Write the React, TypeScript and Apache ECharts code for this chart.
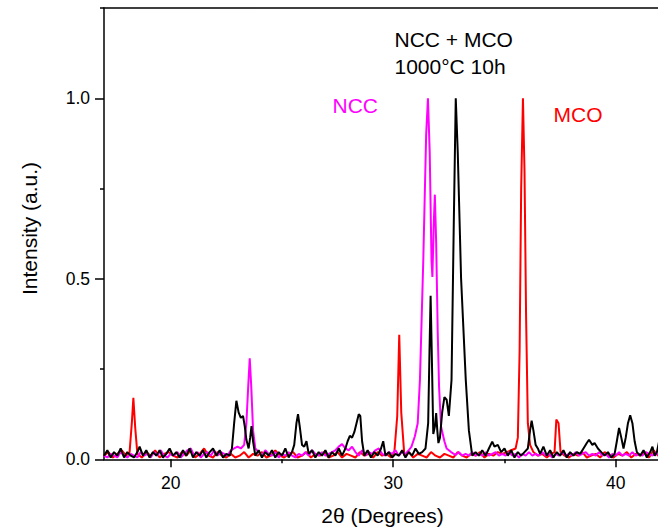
import React, { useEffect, useRef } from "react";
import * as echarts from "echarts";

const xTickMajor = [20, 30, 40];
const xTickMinor = [25, 35];
const yTickMajor = [0, 0.5, 1.0];
const yTickMinor = [0.25, 0.75, 1.25];

// MCO (red)
const mcoData: [number, number][] = [
  [17.0, 0.01], [17.2, 0.02], [17.4, 0.005], [17.6, 0.015], [17.8, 0.025], [18.0, 0.01], [18.15, 0.02],
  [18.25, 0.1], [18.32, 0.17], [18.4, 0.09], [18.5, 0.015], [18.7, 0.005], [18.9, 0.02], [19.1, 0.01],
  [19.3, 0.025], [19.5, 0.005], [19.7, 0.015], [19.9, 0.02], [20.1, 0.01], [20.3, 0.005], [20.5, 0.02],
  [20.7, 0.01], [20.9, 0.025], [21.1, 0.005], [21.3, 0.015], [21.5, 0.03], [21.7, 0.01], [21.9, 0.005],
  [22.1, 0.02], [22.3, 0.01], [22.5, 0.005], [22.7, 0.015], [22.9, 0.005], [23.1, 0.01], [23.3, 0.02],
  [23.5, 0.005], [23.7, 0.015], [23.9, 0.01], [24.1, 0.02], [24.3, 0.005], [24.5, 0.01], [24.7, 0.025],
  [24.9, 0.01], [25.1, 0.005], [25.3, 0.015], [25.5, 0.02], [25.7, 0.005], [25.9, 0.01], [26.1, 0.02],
  [26.3, 0.005], [26.5, 0.015], [26.7, 0.01], [26.9, 0.02], [27.1, 0.005], [27.3, 0.01], [27.5, 0.02],
  [27.7, 0.005], [27.9, 0.015], [28.1, 0.01], [28.3, 0.005], [28.5, 0.02], [28.7, 0.01], [28.9, 0.015],
  [29.1, 0.005], [29.3, 0.02], [29.5, 0.01], [29.7, 0.015], [29.9, 0.005], [30.05, 0.02], [30.18, 0.12],
  [30.27, 0.345], [30.36, 0.13], [30.5, 0.01], [30.7, 0.02], [30.9, 0.005], [31.1, 0.015], [31.3, 0.01],
  [31.5, 0.005], [31.7, 0.02], [31.9, 0.01], [32.1, 0.005], [32.3, 0.015], [32.5, 0.01], [32.7, 0.005],
  [32.9, 0.02], [33.1, 0.01], [33.3, 0.005], [33.5, 0.015], [33.7, 0.01], [33.9, 0.02], [34.1, 0.005],
  [34.3, 0.015], [34.5, 0.01], [34.7, 0.02], [34.9, 0.015], [35.1, 0.02], [35.3, 0.025], [35.5, 0.03],
  [35.6, 0.06], [35.68, 0.3], [35.75, 0.75], [35.83, 1.0], [35.9, 0.8], [35.97, 0.4], [36.05, 0.1],
  [36.15, 0.04], [36.3, 0.02], [36.5, 0.01], [36.7, 0.015], [36.9, 0.005], [37.1, 0.015], [37.25, 0.02],
  [37.33, 0.11], [37.43, 0.1], [37.52, 0.02], [37.7, 0.01], [37.9, 0.005], [38.1, 0.015], [38.3, 0.01],
  [38.5, 0.02], [38.7, 0.005], [38.9, 0.01], [39.1, 0.015], [39.3, 0.005], [39.5, 0.02], [39.7, 0.01],
  [39.9, 0.005], [40.1, 0.015], [40.3, 0.01], [40.5, 0.02], [40.7, 0.005], [40.9, 0.015], [41.1, 0.01],
  [41.3, 0.02], [41.5, 0.005], [41.7, 0.025], [41.9, 0.01], [42.1, 0.02], [42.3, 0.01], [42.5, 0.015],
  [42.7, 0.005], [43.0, 0.01],
];

// NCC (magenta)
const nccData: [number, number][] = [
  [17.0, 0.01], [17.15, 0.005], [17.3, 0.015], [17.45, 0.01], [17.6, 0.005], [17.75, 0.02], [17.9, 0.01],
  [18.05, 0.005], [18.2, 0.015], [18.35, 0.01], [18.5, 0.005], [18.65, 0.02], [18.8, 0.01], [18.95, 0.015],
  [19.1, 0.005], [19.25, 0.02], [19.4, 0.01], [19.55, 0.025], [19.7, 0.01], [19.85, 0.005], [20.0, 0.015],
  [20.15, 0.01], [20.3, 0.02], [20.45, 0.005], [20.6, 0.015], [20.75, 0.025], [20.9, 0.03], [21.05, 0.01],
  [21.2, 0.02], [21.35, 0.005], [21.5, 0.015], [21.65, 0.02], [21.8, 0.01], [21.95, 0.025], [22.1, 0.01],
  [22.25, 0.02], [22.4, 0.015], [22.55, 0.01], [22.7, 0.025], [22.85, 0.03], [23.0, 0.035], [23.15, 0.03],
  [23.3, 0.04], [23.4, 0.1], [23.48, 0.2], [23.55, 0.28], [23.62, 0.2], [23.7, 0.08], [23.8, 0.03],
  [23.95, 0.02], [24.1, 0.01], [24.25, 0.025], [24.4, 0.015], [24.55, 0.01], [24.7, 0.02], [24.85, 0.005],
  [25.0, 0.015], [25.15, 0.01], [25.3, 0.02], [25.45, 0.01], [25.6, 0.005], [25.75, 0.015], [25.9, 0.01],
  [26.05, 0.02], [26.2, 0.01], [26.35, 0.025], [26.5, 0.015], [26.65, 0.01], [26.8, 0.02], [26.95, 0.01],
  [27.1, 0.015], [27.25, 0.02], [27.4, 0.025], [27.55, 0.035], [27.7, 0.042], [27.85, 0.03], [28.0, 0.025],
  [28.15, 0.035], [28.3, 0.02], [28.45, 0.01], [28.6, 0.025], [28.75, 0.01], [28.9, 0.02], [29.05, 0.015],
  [29.2, 0.025], [29.35, 0.03], [29.5, 0.015], [29.65, 0.01], [29.8, 0.02], [29.95, 0.015], [30.1, 0.025],
  [30.25, 0.01], [30.4, 0.02], [30.55, 0.015], [30.7, 0.025], [30.82, 0.035], [30.97, 0.063], [31.1, 0.1],
  [31.2, 0.22], [31.35, 0.55], [31.48, 0.9], [31.56, 1.0], [31.64, 0.85], [31.72, 0.55], [31.76, 0.505],
  [31.82, 0.65], [31.87, 0.733], [31.93, 0.6], [32.0, 0.35], [32.06, 0.2], [32.15, 0.09], [32.3, 0.05],
  [32.4, 0.03], [32.6, 0.02], [32.8, 0.012], [32.95, 0.02], [33.1, 0.01], [33.25, 0.015], [33.4, 0.01],
  [33.55, 0.02], [33.7, 0.01], [33.85, 0.015], [34.0, 0.01], [34.15, 0.02], [34.3, 0.01], [34.45, 0.015],
  [34.6, 0.02], [34.75, 0.01], [34.9, 0.015], [35.05, 0.01], [35.2, 0.02], [35.35, 0.01], [35.5, 0.015],
  [35.65, 0.005], [35.8, 0.015], [35.95, 0.01], [36.1, 0.02], [36.25, 0.01], [36.4, 0.015], [36.55, 0.01],
  [36.7, 0.02], [36.85, 0.01], [37.0, 0.015], [37.15, 0.005], [37.3, 0.015], [37.45, 0.01], [37.6, 0.02],
  [37.75, 0.01], [37.9, 0.015], [38.05, 0.01], [38.2, 0.02], [38.35, 0.01], [38.5, 0.015], [38.65, 0.02],
  [38.8, 0.01], [38.95, 0.015], [39.1, 0.01], [39.25, 0.02], [39.4, 0.01], [39.55, 0.015], [39.7, 0.005],
  [39.85, 0.015], [40.0, 0.01], [40.15, 0.02], [40.3, 0.01], [40.45, 0.015], [40.6, 0.01], [40.75, 0.02],
  [40.9, 0.01], [41.05, 0.015], [41.2, 0.01], [41.35, 0.02], [41.5, 0.015], [41.65, 0.01], [41.8, 0.02],
  [41.95, 0.01], [42.2, 0.015], [42.5, 0.01], [42.8, 0.02], [43.0, 0.01],
];

// NCC + MCO (black)
const mixData: [number, number][] = [
  [17.0, 0.01], [17.15, 0.025], [17.3, 0.005], [17.45, 0.02], [17.6, 0.01], [17.75, 0.03], [17.9, 0.005],
  [18.05, 0.02], [18.2, 0.01], [18.35, 0.005], [18.5, 0.02], [18.6, 0.035], [18.75, 0.01], [18.9, 0.025],
  [19.05, 0.005], [19.2, 0.02], [19.35, 0.01], [19.5, 0.025], [19.65, 0.005], [19.8, 0.015], [19.95, 0.03],
  [20.1, 0.01], [20.25, 0.02], [20.4, 0.005], [20.55, 0.025], [20.7, 0.01], [20.85, 0.03], [21.0, 0.005],
  [21.15, 0.02], [21.3, 0.01], [21.45, 0.025], [21.6, 0.005], [21.75, 0.02], [21.9, 0.03], [22.05, 0.01],
  [22.2, 0.025], [22.35, 0.005], [22.5, 0.015], [22.65, 0.01], [22.75, 0.03], [22.85, 0.1], [22.95, 0.162],
  [23.05, 0.13], [23.15, 0.115], [23.25, 0.12], [23.33, 0.09], [23.4, 0.054], [23.5, 0.03], [23.57, 0.06],
  [23.63, 0.092], [23.7, 0.05], [23.8, 0.01], [23.95, 0.025], [24.1, 0.005], [24.25, 0.02], [24.4, 0.01],
  [24.55, 0.025], [24.7, 0.005], [24.85, 0.02], [25.0, 0.01], [25.15, 0.03], [25.3, 0.005], [25.45, 0.02],
  [25.55, 0.04], [25.65, 0.1], [25.72, 0.125], [25.8, 0.09], [25.9, 0.04], [26.0, 0.035], [26.1, 0.05],
  [26.2, 0.015], [26.35, 0.025], [26.5, 0.005], [26.65, 0.02], [26.8, 0.01], [26.95, 0.025], [27.1, 0.005],
  [27.25, 0.02], [27.4, 0.01], [27.55, 0.03], [27.7, 0.01], [27.85, 0.03], [27.95, 0.05], [28.05, 0.065],
  [28.15, 0.06], [28.25, 0.075], [28.35, 0.1], [28.45, 0.125], [28.52, 0.12], [28.6, 0.05], [28.7, 0.01],
  [28.85, 0.025], [29.0, 0.005], [29.15, 0.02], [29.3, 0.01], [29.45, 0.03], [29.55, 0.05], [29.65, 0.01],
  [29.8, 0.02], [29.95, 0.005], [30.1, 0.015], [30.25, 0.01], [30.4, 0.025], [30.55, 0.005], [30.7, 0.02],
  [30.85, 0.01], [31.0, 0.03], [31.15, 0.015], [31.3, 0.02], [31.45, 0.03], [31.57, 0.1], [31.63, 0.3],
  [31.68, 0.453], [31.73, 0.3], [31.8, 0.07], [31.87, 0.09], [31.93, 0.128], [31.98, 0.08], [32.03, 0.045],
  [32.1, 0.06], [32.2, 0.13], [32.3, 0.172], [32.4, 0.165], [32.5, 0.12], [32.62, 0.22], [32.72, 0.65],
  [32.81, 1.0], [32.9, 0.85], [33.05, 0.5], [33.26, 0.22], [33.4, 0.08], [33.55, 0.01], [33.7, 0.02],
  [33.85, 0.01], [34.0, 0.025], [34.15, 0.01], [34.3, 0.03], [34.45, 0.049], [34.55, 0.035], [34.7, 0.04],
  [34.85, 0.02], [35.0, 0.03], [35.15, 0.01], [35.3, 0.025], [35.45, 0.005], [35.6, 0.02], [35.75, 0.01],
  [35.9, 0.02], [36.05, 0.03], [36.15, 0.08], [36.22, 0.107], [36.3, 0.08], [36.4, 0.04], [36.5, 0.03],
  [36.6, 0.015], [36.75, 0.035], [36.9, 0.01], [37.05, 0.025], [37.2, 0.005], [37.35, 0.02], [37.5, 0.01],
  [37.65, 0.025], [37.8, 0.005], [37.95, 0.02], [38.1, 0.01], [38.25, 0.02], [38.4, 0.015], [38.55, 0.03],
  [38.7, 0.045], [38.8, 0.054], [38.95, 0.04], [39.05, 0.045], [39.2, 0.03], [39.35, 0.02], [39.5, 0.01],
  [39.65, 0.02], [39.8, 0.005], [39.95, 0.015], [40.05, 0.05], [40.15, 0.087], [40.25, 0.06], [40.35, 0.03],
  [40.45, 0.06], [40.55, 0.1], [40.65, 0.122], [40.75, 0.1], [40.85, 0.05], [40.95, 0.02], [41.1, 0.01],
  [41.25, 0.025], [41.4, 0.005], [41.55, 0.02], [41.65, 0.035], [41.75, 0.01], [41.85, 0.02], [41.95, 0.05],
  [42.1, 0.02], [42.3, 0.01], [42.5, 0.025], [42.7, 0.01], [43.0, 0.02],
];

const FONT = "'Liberation Sans', Arial, Helvetica, sans-serif";
const X_MIN = 17;
const X_MAX = 41.9;

export default function App() {
  const ref = useRef<HTMLDivElement>(null);
  useEffect(() => {
    if (!ref.current) return;
    const chart = echarts.init(ref.current, null, { renderer: "svg" });
    const axisLine = { color: "#000", width: 1.5 };
    const gridBox = { left: 104, top: 8, right: 0, height: 451.3 };
    const xBase = { type: "value", min: X_MIN, max: X_MAX, splitLine: { show: false } };
    const yBase = { type: "value", min: 0, max: 1.25, splitLine: { show: false } };
    chart.setOption({
      animation: false,
      grid: [{ ...gridBox }, { ...gridBox }],
      xAxis: [
        {
          ...xBase,
          gridIndex: 0,
          position: "bottom",
          axisLine: { show: true, onZero: false, lineStyle: axisLine },
          axisTick: { show: true, customValues: xTickMajor, length: 8, lineStyle: axisLine },
          axisLabel: { show: true, customValues: xTickMajor, fontSize: 17.5, color: "#000", fontFamily: FONT, margin: 15 },
        },
        {
          ...xBase,
          gridIndex: 0,
          position: "top",
          axisLine: { show: true, onZero: false, lineStyle: axisLine },
          axisTick: { show: false },
          axisLabel: { show: false },
        },
        {
          ...xBase,
          gridIndex: 1,
          position: "bottom",
          axisLine: { show: false, onZero: false },
          axisTick: { show: true, customValues: xTickMinor, length: 4, lineStyle: axisLine },
          axisLabel: { show: false },
        },
      ],
      yAxis: [
        {
          ...yBase,
          gridIndex: 0,
          position: "left",
          axisLine: { show: true, onZero: false, lineStyle: axisLine },
          axisTick: { show: true, customValues: yTickMajor, length: 9, lineStyle: axisLine },
          axisLabel: {
            show: true,
            customValues: yTickMajor,
            fontSize: 17.5,
            color: "#000",
            fontFamily: FONT,
            margin: 14,
            formatter: (v: number) => v.toFixed(1),
          },
        },
        {
          ...yBase,
          gridIndex: 1,
          position: "left",
          axisLine: { show: false, onZero: false },
          axisTick: { show: true, customValues: yTickMinor, length: 4, lineStyle: axisLine },
          axisLabel: { show: false },
        },
      ],
      series: [
        {
          name: "MCO",
          type: "line",
          xAxisIndex: 0,
          yAxisIndex: 0,
          data: mcoData,
          symbol: "none",
          lineStyle: { color: "#ff0000", width: 2 },
          itemStyle: { color: "#ff0000" },
          z: 2,
        },
        {
          name: "NCC",
          type: "line",
          xAxisIndex: 0,
          yAxisIndex: 0,
          data: nccData,
          symbol: "none",
          lineStyle: { color: "#ff00ff", width: 2 },
          itemStyle: { color: "#ff00ff" },
          z: 3,
        },
        {
          name: "NCC + MCO",
          type: "line",
          xAxisIndex: 0,
          yAxisIndex: 0,
          data: mixData,
          symbol: "none",
          lineStyle: { color: "#000000", width: 2 },
          itemStyle: { color: "#000000" },
          z: 4,
        },
      ],
      graphic: [
        { type: "text", x: 394.5, y: 39.5, style: { text: "NCC + MCO", fontSize: 21, fontFamily: FONT, fill: "#000", align: "left", verticalAlign: "middle" } },
        { type: "text", x: 394.5, y: 66, style: { text: "1000°C 10h", fontSize: 21, fontFamily: FONT, fill: "#000", align: "left", verticalAlign: "middle" } },
        { type: "text", x: 332.5, y: 105.5, style: { text: "NCC", fontSize: 21, fontFamily: FONT, fill: "#ff00ff", align: "left", verticalAlign: "middle" } },
        { type: "text", x: 553.5, y: 114.5, style: { text: "MCO", fontSize: 21, fontFamily: FONT, fill: "#ff0000", align: "left", verticalAlign: "middle" } },
        { type: "text", x: 382.5, y: 515.5, style: { text: "2θ (Degrees)", fontSize: 21, fontFamily: FONT, fill: "#000", align: "center", verticalAlign: "middle" } },
        { type: "text", x: 29.5, y: 228.5, rotation: Math.PI / 2, style: { text: "Intensity (a.u.)", fontSize: 21, fontFamily: FONT, fill: "#000", align: "center", verticalAlign: "middle" } },
      ],
    });
    return () => chart.dispose();
  }, []);
  return (
    <div
      ref={ref}
      style={{ position: "fixed", left: 0, top: 0, width: 658, height: 527, background: "#fff" }}
    />
  );
}
